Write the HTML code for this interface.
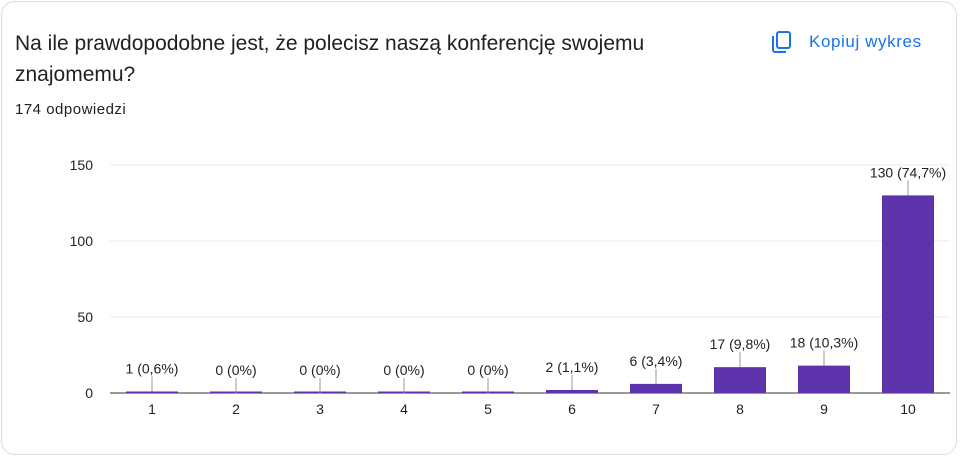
<!DOCTYPE html>
<html><head><meta charset="utf-8"><style>
body{margin:0;width:960px;height:458px;background:#fff;font-family:"Liberation Sans",Arial,sans-serif;overflow:hidden}
.card{position:absolute;left:1px;top:1px;width:956px;height:454px;border:1px solid #dadce0;border-radius:14px;box-sizing:border-box}
.title{position:absolute;left:15px;top:28px;width:680px;font-size:21px;line-height:31px;color:#202124}
.sub{position:absolute;left:15px;top:101px;font-size:15px;letter-spacing:0.5px;color:#202124}
.copy{position:absolute;left:770px;top:30px;display:flex;align-items:center;color:#1a73e8;font-size:17px;letter-spacing:0.6px}
</style></head><body>
<div class="card"></div>
<div class="title">Na ile prawdopodobne jest, że polecisz naszą konferencję swojemu<br>znajomemu?</div>
<div class="sub">174 odpowiedzi</div>
<div class="copy">
<svg width="24" height="24" viewBox="0 0 24 24" style="margin-right:15px"><rect x="7" y="2" width="13" height="16" rx="2" fill="none" stroke="#1a73e8" stroke-width="2"/><path d="M3 6v14a2 2 0 0 0 2 2h11" fill="none" stroke="#1a73e8" stroke-width="2"/></svg>Kopiuj wykres</div>
<svg id="chart" width="960" height="458" style="position:absolute;left:0;top:0"></svg>
<script>
const categories=["1","2","3","4","5","6","7","8","9","10"];
const values=[1,0,0,0,0,2,6,17,18,130];
const valueLabels=["1 (0,6%)","0 (0%)","0 (0%)","0 (0%)","0 (0%)","2 (1,1%)","6 (3,4%)","17 (9,8%)","18 (10,3%)","130 (74,7%)"];
const yTicks=[0,50,100,150];
const svg=document.getElementById('chart');const NS='http://www.w3.org/2000/svg';
const L=110,R=950,B=393,T=165,yMax=150;
const y=v=>B-(v/yMax)*(B-T);
const step=(R-L)/categories.length;
const x=i=>L+step*(i+0.5);
function mk(t,a){const e=document.createElementNS(NS,t);for(const k in a)e.setAttribute(k,a[k]);svg.appendChild(e);return e;}
yTicks.forEach(v=>{
 const g=mk('line',{x1:L,x2:R,y1:y(v),y2:y(v),stroke:v===0?'#333':'#ebebeb','stroke-width':1});
 
 
 const t=mk('text',{x:93,y:y(v)+5,'text-anchor':'end','font-size':14,fill:'#222','font-family':'Liberation Sans,Arial,sans-serif'});
 t.textContent=v;
 
 
});
categories.forEach((c,i)=>{
 const w=52,top=y(values[i]);
 const r=mk('rect',{x:x(i)-w/2,y:Math.min(top,B-1.5),width:w,height:Math.max(B-top,1.5),fill:'#5c33ab'});
 
 
 const ln=mk('line',{x1:x(i),x2:x(i),y1:top-15,y2:top,stroke:'#999','stroke-width':1});
 
 
 const vl=mk('text',{x:x(i),y:top-18,'text-anchor':'middle','font-size':14,fill:'#222','font-family':'Liberation Sans,Arial,sans-serif'});
 vl.textContent=valueLabels[i];
 
 
 const xl=mk('text',{x:x(i),y:B+21,'text-anchor':'middle','font-size':14,fill:'#222','font-family':'Liberation Sans,Arial,sans-serif'});
 xl.textContent=c;
 
 
});
</script>
</body></html>
